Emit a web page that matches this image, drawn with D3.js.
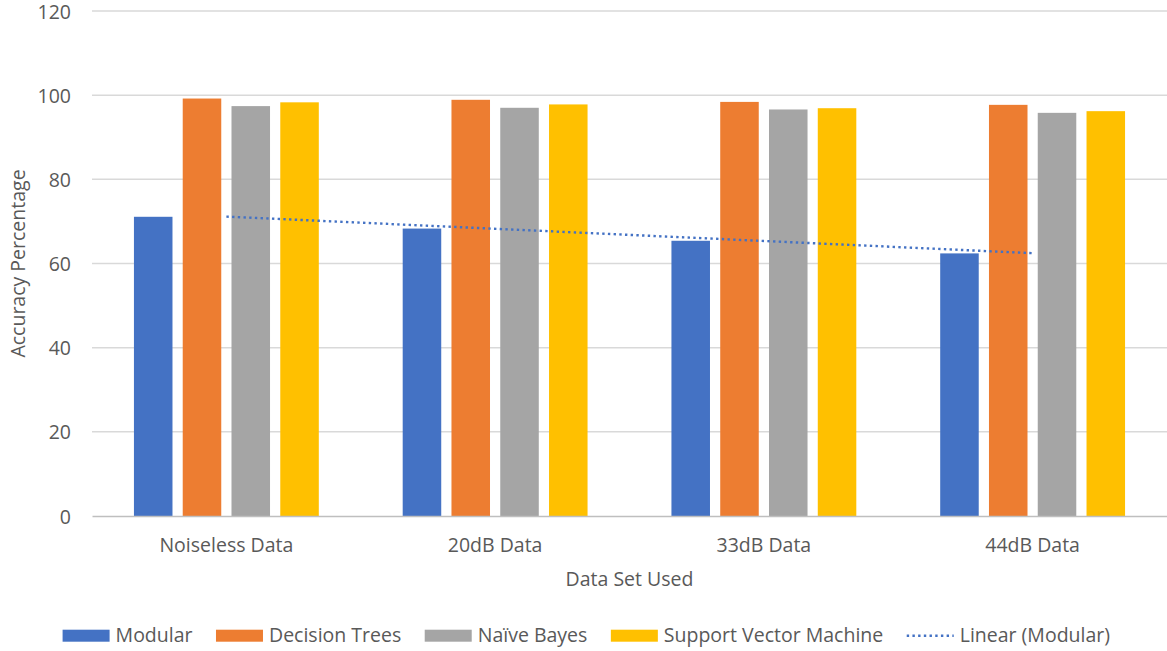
<!DOCTYPE html>
<html>
<head>
<meta charset="utf-8">
<script src="https://cdn.jsdelivr.net/npm/d3@7"></script>
<style>
  html, body { margin: 0; padding: 0; background: #ffffff; }
  svg { display: block; }
  text { font-family: "Open Sans", "Noto Sans", sans-serif; fill: #595959; }
</style>
</head>
<body>
<svg id="chart" width="1167" height="651"></svg>
<script>
// ---- data ----
const categories = ["Noiseless Data", "20dB Data", "33dB Data", "44dB Data"];
const seriesNames = ["Modular", "Decision Trees", "Naïve Bayes", "Support Vector Machine"];
const modular = [71.1, 68.3, 65.4, 62.4];
const decisionTrees = [99.2, 98.9, 98.4, 97.7];
const naiveBayes = [97.4, 97.0, 96.6, 95.8];
const svmValues = [98.3, 97.8, 96.9, 96.2];
const yTicks = [0, 20, 40, 60, 80, 100, 120];
const seriesColors = ["#4472C4", "#ED7D31", "#A5A5A5", "#FFC000"];
const trendLabel = "Linear (Modular)";
const xTitle = "Data Set Used";
const yTitle = "Accuracy Percentage";

const seriesValues = [modular, decisionTrees, naiveBayes, svmValues];

// ---- layout ----
const plot = { left: 92, right: 1167, top: 11, bottom: 516 };
const fontSize = 19.5;

const svg = d3.select("#chart");

const y = d3.scaleLinear().domain([0, 120]).range([plot.bottom, plot.top]);
const x0 = d3.scaleBand().domain(categories).range([plot.left, plot.right]).padding(0);
const x1 = d3.scaleBand().domain(seriesNames).range([0, x0.bandwidth()])
  .paddingInner(0.21).paddingOuter(0.86);

// gridlines
svg.append("g")
  .selectAll("line")
  .data(yTicks.filter(t => t !== 0))
  .join("line")
  .attr("x1", plot.left).attr("x2", plot.right)
  .attr("y1", d => y(d)).attr("y2", d => y(d))
  .attr("stroke", "#D9D9D9").attr("stroke-width", 1.5);

// y axis tick labels
const yAxis = d3.axisLeft(y).tickValues(yTicks).tickSize(0).tickPadding(0);
const yAxisG = svg.append("g").attr("transform", `translate(${plot.left - 21},0)`).call(yAxis);
yAxisG.select(".domain").remove();
yAxisG.selectAll("text")
  .attr("font-size", fontSize)
  .attr("font-family", null)
  .attr("fill", "#595959")
  .attr("dy", "0.36em");

// bars
const groups = svg.append("g")
  .selectAll("g")
  .data(categories)
  .join("g")
  .attr("transform", d => `translate(${x0(d)},0)`);

groups.selectAll("rect")
  .data((c, ci) => seriesNames.map((s, si) => ({ s, si, v: seriesValues[si][ci] })))
  .join("rect")
  .attr("x", d => x1(d.s))
  .attr("width", x1.bandwidth())
  .attr("y", d => y(d.v))
  .attr("height", d => y(0) - y(d.v))
  .attr("fill", d => seriesColors[d.si]);

// category axis
const xAxis = d3.axisBottom(x0).tickSize(0).tickPadding(0);
const xAxisG = svg.append("g").attr("transform", `translate(0,${plot.bottom})`).call(xAxis);
xAxisG.select(".domain").attr("stroke", "#BFBFBF").attr("stroke-width", 1.5);
xAxisG.selectAll("text")
  .attr("font-size", fontSize)
  .attr("font-family", null)
  .attr("fill", "#595959")
  .attr("dy", null)
  .attr("y", 551.7 - plot.bottom);

// linear trend of the Modular series (least squares over category index)
const xs = modular.map((_, i) => i + 1);
const mx = d3.mean(xs), my = d3.mean(modular);
const slope = d3.sum(xs.map((xv, i) => (xv - mx) * (modular[i] - my))) /
              d3.sum(xs.map(xv => (xv - mx) ** 2));
const intercept = my - slope * mx;
const trendPts = [1, xs.length].map(i => ({
  x: x0(categories[i - 1]) + x0.bandwidth() / 2,
  y: y(intercept + slope * i)
}));
svg.append("path")
  .attr("d", d3.line().x(d => d.x).y(d => d.y)(trendPts))
  .attr("fill", "none")
  .attr("stroke", "#4472C4")
  .attr("stroke-width", 2.4)
  .attr("stroke-dasharray", "2.4,3.3");

// axis titles
svg.append("text")
  .attr("x", (plot.left + plot.right) / 2)
  .attr("y", 586)
  .attr("text-anchor", "middle")
  .attr("font-size", fontSize)
  .text(xTitle);

svg.append("text")
  .attr("transform", `translate(25,${(plot.top + plot.bottom) / 2}) rotate(-90)`)
  .attr("text-anchor", "middle")
  .attr("font-size", fontSize)
  .text(yTitle);

// legend
const legendItems = seriesNames.map((n, i) => ({ name: n, color: seriesColors[i], type: "bar" }))
  .concat([{ name: trendLabel, color: "#4472C4", type: "trend" }]);
const swW = 47, swH = 12, swGap = 6, itemGap = 23.5;
const legendBaseline = 641.7;
const legend = svg.append("g");
const items = legend.selectAll("g").data(legendItems).join("g");
items.append("text")
  .attr("font-size", fontSize)
  .attr("x", swW + swGap)
  .attr("y", legendBaseline)
  .text(d => d.name);
let widths = [];
items.each(function () { widths.push(this.querySelector("text").getComputedTextLength()); });
const total = d3.sum(widths) + legendItems.length * (swW + swGap) + (legendItems.length - 1) * itemGap;
let cursor = 586.3 - total / 2;
items.attr("transform", (d, i) => {
  const tx = cursor;
  cursor += swW + swGap + widths[i] + itemGap;
  return `translate(${tx},0)`;
});
items.filter(d => d.type === "bar").append("rect")
  .attr("x", 0).attr("y", legendBaseline - swH)
  .attr("width", swW).attr("height", swH)
  .attr("fill", d => d.color);
items.filter(d => d.type === "trend").append("line")
  .attr("x1", 0).attr("x2", swW)
  .attr("y1", legendBaseline - swH / 2).attr("y2", legendBaseline - swH / 2)
  .attr("stroke", d => d.color)
  .attr("stroke-width", 2.4)
  .attr("stroke-dasharray", "2.4,3.3");
</script>
</body>
</html>
